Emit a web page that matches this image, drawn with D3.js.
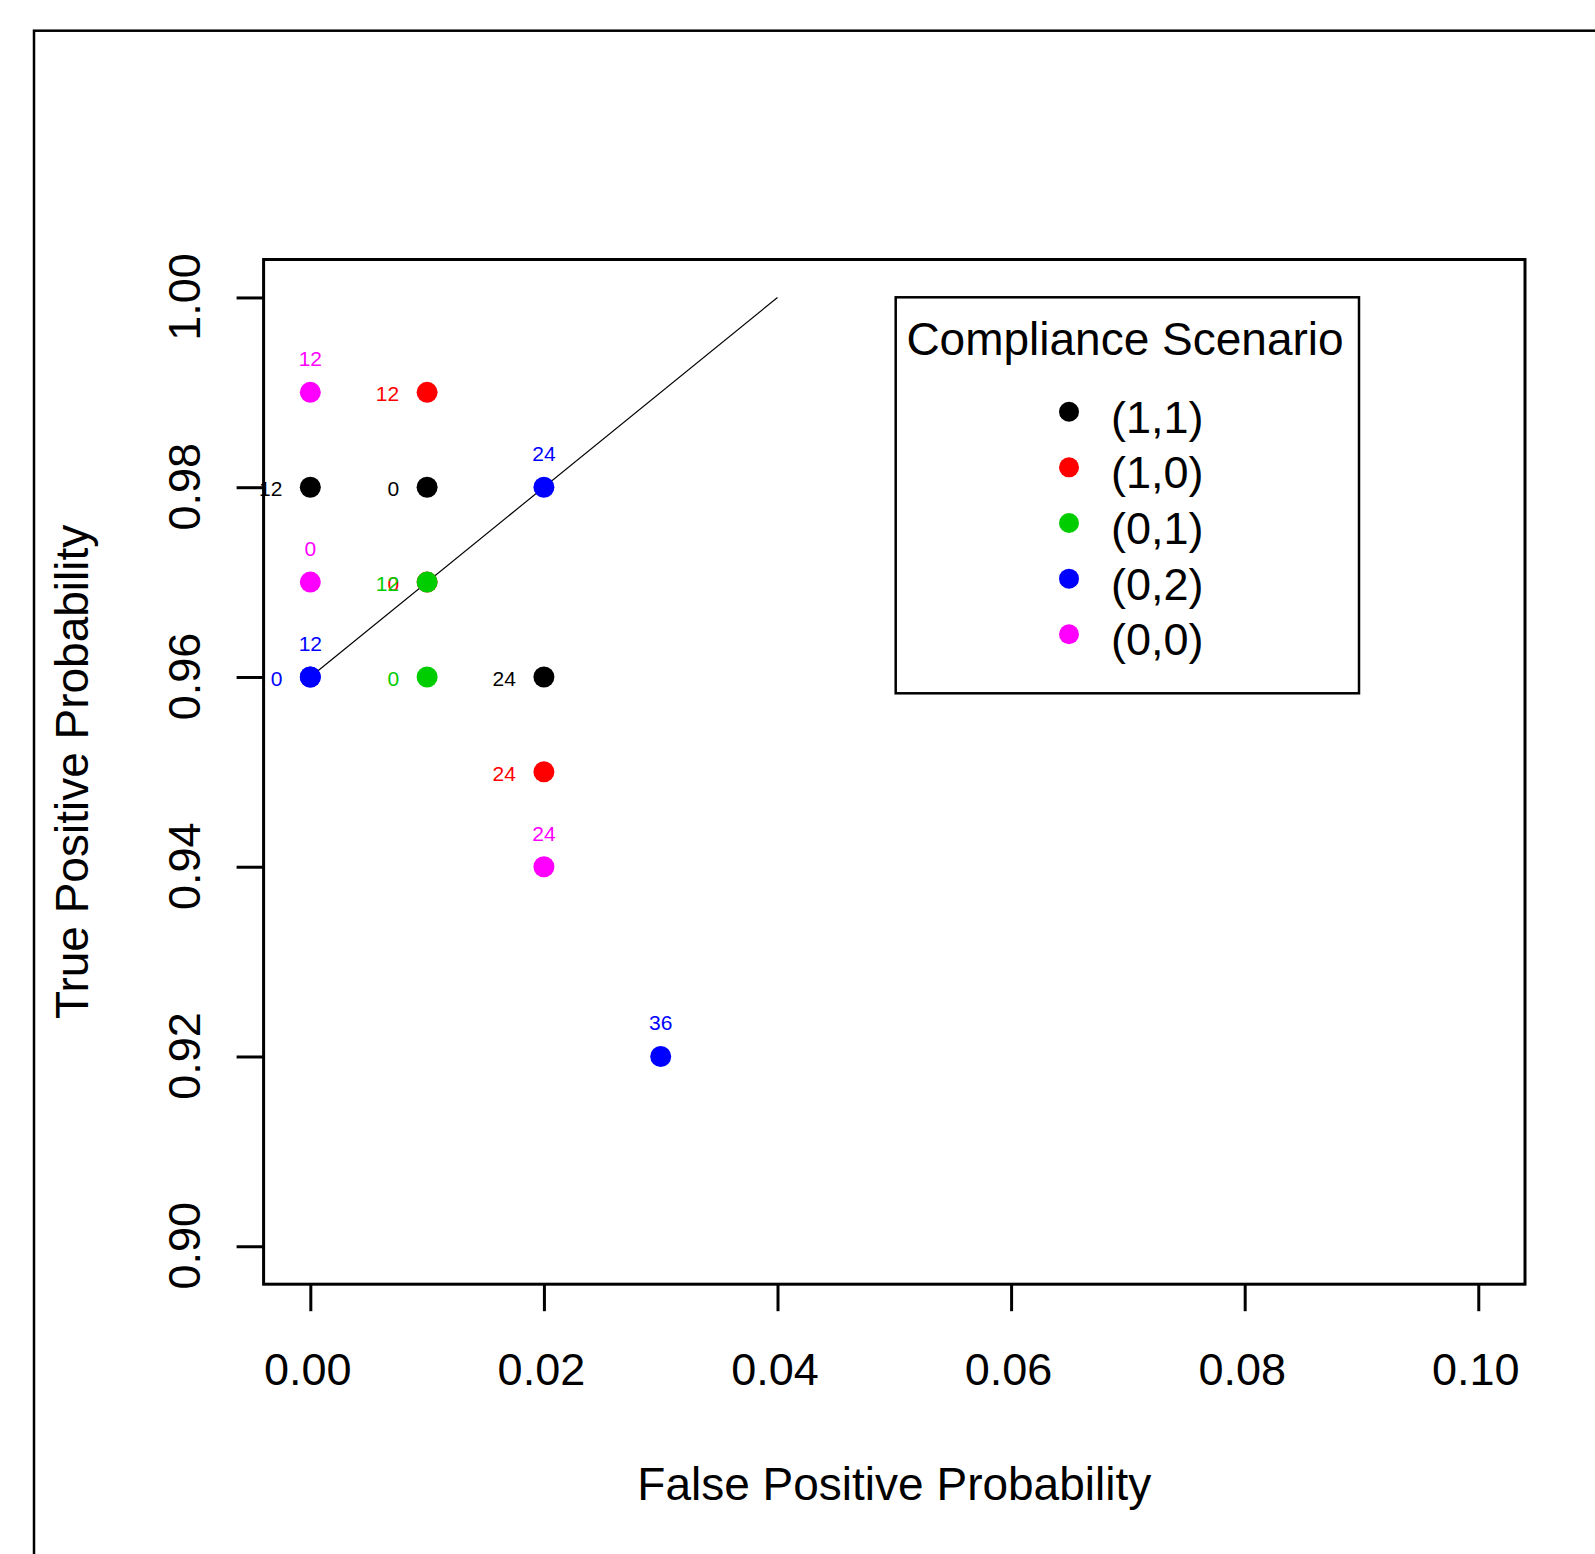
<!DOCTYPE html>
<html>
<head>
<meta charset="utf-8">
<script src="https://cdn.jsdelivr.net/npm/d3@7"></script>
<style>
  html, body { margin: 0; padding: 0; background: #fff; }
  svg { display: block; }
  text { font-family: "Liberation Sans", Arial, sans-serif; }
</style>
</head>
<body>
<script>
// ---- data ----
const scenarioNames = ["(1,1)", "(1,0)", "(0,1)", "(0,2)", "(0,0)"];
const scenarioColors = ["#000000", "#ff0000", "#00cd00", "#0000ff", "#ff00ff"];

// points: scenario index, false positive prob, true positive prob, month label, label side
const pointScenario = [0, 0, 0, 1, 1, 1, 2, 2, 3, 3, 3, 3, 4, 4, 4];
const pointFPP      = [0.00, 0.01, 0.02, 0.01, 0.01, 0.02, 0.01, 0.01, 0.00, 0.00, 0.02, 0.03, 0.00, 0.00, 0.02];
const pointTPP      = [0.98, 0.98, 0.96, 0.97, 0.99, 0.95, 0.96, 0.97, 0.96, 0.96, 0.98, 0.92, 0.97, 0.99, 0.94];
const pointMonth    = ["12", "0", "24", "0", "12", "24", "0", "12", "0", "12", "24", "36", "0", "12", "24"];
const labelSide     = ["left", "left", "left", "left", "left", "left", "left", "left", "left", "above", "above", "above", "above", "above", "above"];

// reference line
const refLineFPP = [0.00, 0.04];
const refLineTPP = [0.96, 1.00];

const xTicks = [0.00, 0.02, 0.04, 0.06, 0.08, 0.10];
const yTicks = [0.90, 0.92, 0.94, 0.96, 0.98, 1.00];
const xTitle = "False Positive Probability";
const yTitle = "True Positive Probability";
const legendTitle = "Compliance Scenario";

// ---- layout ----
const W = 1595, H = 1554;
const plotL = 263.6, plotR = 1525, plotT = 259.5, plotB = 1284.2;

const svg = d3.select("body").append("svg").attr("width", W).attr("height", H);

// outer frame (cut off by the page)
svg.append("rect")
  .attr("x", 34).attr("y", 30.7)
  .attr("width", W + 20).attr("height", H + 20)
  .attr("fill", "none").attr("stroke", "#000").attr("stroke-width", 2.5);

const x = d3.scaleLinear().domain([-0.004, 0.104]).range([plotL, plotR]);
const y = d3.scaleLinear().domain([0.896, 1.004]).range([plotB, plotT]);

// x axis
const xAxis = svg.append("g")
  .attr("transform", `translate(0,${plotB})`)
  .call(d3.axisBottom(x).tickValues(xTicks).tickSize(27).tickFormat(d3.format(".2f")));
xAxis.select(".domain").remove();
xAxis.selectAll(".tick line").attr("stroke", "#000").attr("stroke-width", 3);
xAxis.selectAll(".tick text")
  .attr("y", 101).attr("dy", 0).attr("x", -3)
  .attr("fill", "#000")
  .style("font-size", "45px");

// y axis
const yAxis = svg.append("g")
  .attr("transform", `translate(${plotL},0)`)
  .call(d3.axisLeft(y).tickValues(yTicks).tickSize(27).tickFormat(d3.format(".2f")));
yAxis.select(".domain").remove();
yAxis.selectAll(".tick line").attr("stroke", "#000").attr("stroke-width", 3);
yAxis.selectAll(".tick text")
  .attr("x", 0).attr("dy", 0)
  .attr("transform", "translate(-64,-1) rotate(-90)")
  .attr("text-anchor", "middle")
  .attr("fill", "#000")
  .style("font-size", "45px");

// plot box
svg.append("rect")
  .attr("x", plotL).attr("y", plotT)
  .attr("width", plotR - plotL).attr("height", plotB - plotT)
  .attr("fill", "none").attr("stroke", "#000").attr("stroke-width", 3);

// axis titles
svg.append("text")
  .attr("x", (plotL + plotR) / 2).attr("y", 1500)
  .attr("text-anchor", "middle")
  .style("font-size", "46px")
  .text(xTitle);

svg.append("text")
  .attr("transform", `translate(88,${(plotT + plotB) / 2}) rotate(-90)`)
  .attr("text-anchor", "middle")
  .style("font-size", "46px")
  .text(yTitle);

// reference line
svg.append("line")
  .attr("x1", x(refLineFPP[0])).attr("y1", y(refLineTPP[0]))
  .attr("x2", x(refLineFPP[1])).attr("y2", y(refLineTPP[1]))
  .attr("stroke", "#000").attr("stroke-width", 1.2);

// points and labels
const pts = pointScenario.map((s, i) => ({
  s, fpp: pointFPP[i], tpp: pointTPP[i], m: pointMonth[i], side: labelSide[i]
}));

const g = svg.append("g");
pts.forEach(p => {
  const cx = x(p.fpp), cy = y(p.tpp);
  g.append("circle")
    .attr("cx", cx).attr("cy", cy).attr("r", 10.5)
    .attr("fill", scenarioColors[p.s]);
  const t = g.append("text")
    .attr("fill", scenarioColors[p.s])
    .style("font-size", "21px")
    .text(p.m);
  if (p.side === "left") {
    t.attr("x", cx - 28).attr("y", cy + 9).attr("text-anchor", "end");
  } else {
    t.attr("x", cx).attr("y", cy - 26).attr("text-anchor", "middle");
  }
});

// legend
const lgL = 895.7, lgT = 297.3, lgR = 1359, lgB = 693.3;
svg.append("rect")
  .attr("x", lgL).attr("y", lgT)
  .attr("width", lgR - lgL).attr("height", lgB - lgT)
  .attr("fill", "#fff").attr("stroke", "#000").attr("stroke-width", 2.5);

svg.append("text")
  .attr("x", 1125).attr("y", 355)
  .attr("text-anchor", "middle")
  .style("font-size", "46px")
  .text(legendTitle);

const rowY = d3.scalePoint().domain(scenarioNames).range([411.7, 634.3]);
scenarioNames.forEach((name, i) => {
  svg.append("circle")
    .attr("cx", 1069).attr("cy", rowY(name)).attr("r", 10)
    .attr("fill", scenarioColors[i]);
  svg.append("text")
    .attr("x", 1111).attr("y", rowY(name) + 21)
    .style("font-size", "45px")
    .text(name);
});
</script>
</body>
</html>
